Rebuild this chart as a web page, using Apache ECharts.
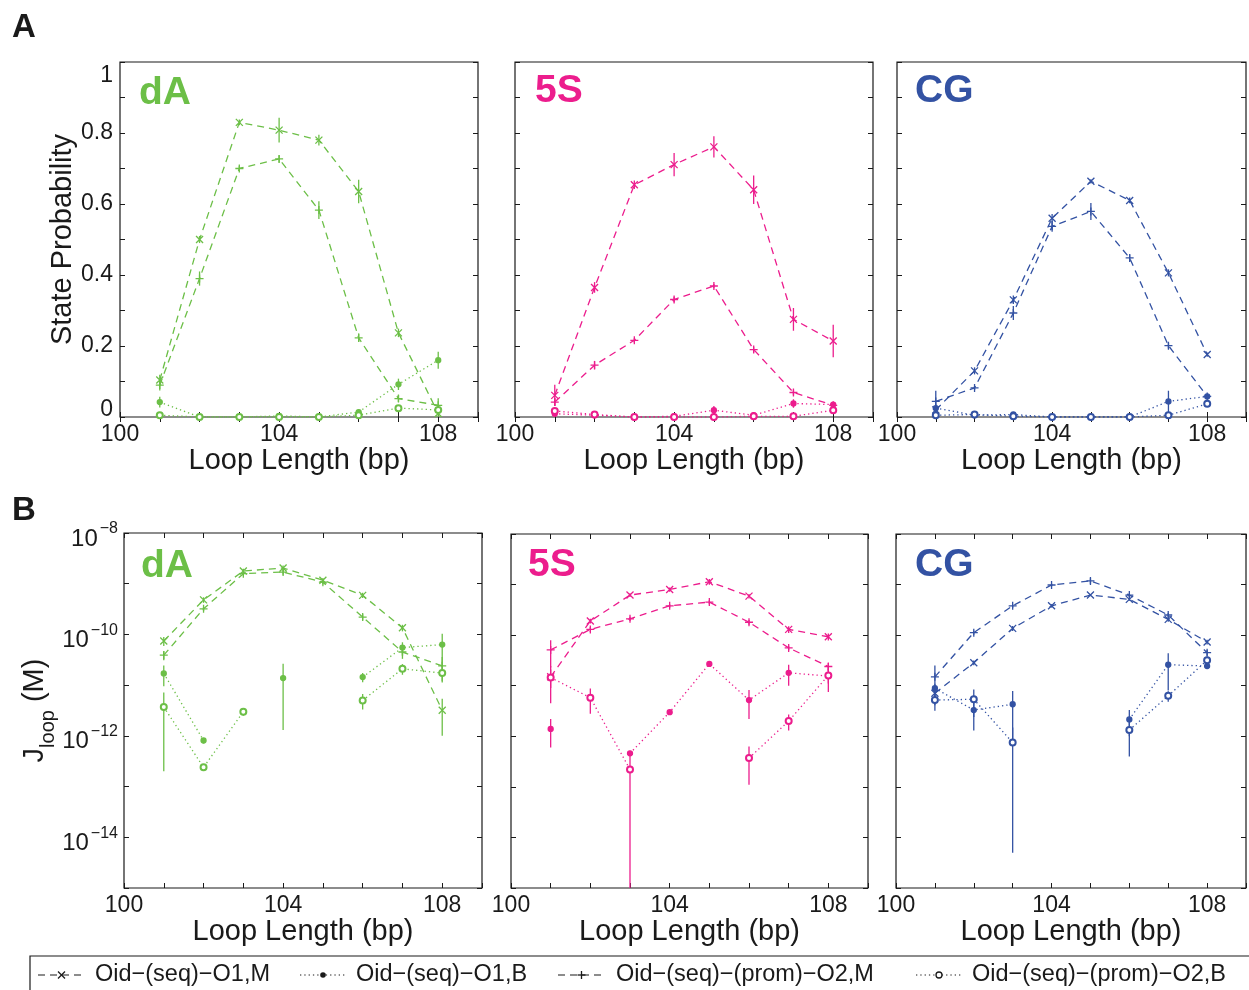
<!DOCTYPE html>
<html>
<head>
<meta charset="utf-8">
<script src="https://cdn.jsdelivr.net/npm/echarts@6/dist/echarts.min.js"></script>
<style>
html, body { margin: 0; padding: 0; background: #fff; }
#chart { width: 1249px; height: 990px; }
</style>
</head>
<body>
<div id="chart"></div>
<script>
// ---- categories and labels ----
const loopLengths = [101, 102, 103, 104, 105, 106, 107, 108];
const xTickLabels = [100, 104, 108];
const probTickLabels = [0, 0.2, 0.4, 0.6, 0.8, 1];
const jTickExponents = [-8, -10, -12, -14];
const seriesNames = ['Oid−(seq)−O1,M', 'Oid−(seq)−O1,B', 'Oid−(seq)−(prom)−O2,M', 'Oid−(seq)−(prom)−O2,B'];
const constructNames = ['dA', '5S', 'CG'];
const constructColors = ['#6cbf47', '#ec1d8d', '#3352a3'];

// ---- A: state probability (value, error) ----
const probDA_O1M = [0.104, 0.50, 0.83, 0.808, 0.78, 0.635, 0.237, 0.01];
const probDA_O1B = [0.042, 0.0, 0.0, 0.003, 0.0, 0.014, 0.092, 0.16];
const probDA_O2M = [0.09, 0.39, 0.70, 0.727, 0.583, 0.223, 0.052, 0.033];
const probDA_O2B = [0.005, 0.0, 0.0, 0.0, 0.0, 0.005, 0.025, 0.02];
const probDA_O1M_err = [0.015, 0.01, 0.008, 0.035, 0.015, 0.033, 0.012, 0.01];
const probDA_O1B_err = [0.015, 0.002, 0.002, 0.003, 0.002, 0.006, 0.016, 0.024];
const probDA_O2M_err = [0.015, 0.02, 0.008, 0.01, 0.025, 0.012, 0.01, 0.02];
const probDA_O2B_err = [0.004, 0.002, 0.002, 0.002, 0.002, 0.003, 0.008, 0.012];

const prob5S_O1M = [0.061, 0.365, 0.654, 0.711, 0.761, 0.64, 0.275, 0.214];
const prob5S_O1B = [0.009, 0.005, 0.0, 0.002, 0.019, 0.005, 0.038, 0.035];
const prob5S_O2M = [0.042, 0.146, 0.216, 0.331, 0.369, 0.19, 0.069, 0.033];
const prob5S_O2B = [0.017, 0.007, 0.0, 0.0, 0.0, 0.002, 0.002, 0.019];
const prob5S_O1M_err = [0.03, 0.015, 0.012, 0.033, 0.03, 0.04, 0.032, 0.046];
const prob5S_O1B_err = [0.005, 0.003, 0.002, 0.002, 0.012, 0.003, 0.012, 0.006];
const prob5S_O2M_err = [0.01, 0.012, 0.006, 0.008, 0.006, 0.008, 0.008, 0.006];
const prob5S_O2B_err = [0.004, 0.003, 0.002, 0.002, 0.002, 0.002, 0.002, 0.006];

const probCG_O1M = [0.02, 0.13, 0.33, 0.56, 0.664, 0.61, 0.406, 0.176];
const probCG_O1B = [0.025, 0.005, 0.007, 0.0, 0.0, 0.0, 0.044, 0.058];
const probCG_O2M = [0.044, 0.082, 0.293, 0.537, 0.579, 0.448, 0.201, 0.058];
const probCG_O2B = [0.005, 0.007, 0.002, 0.0, 0.0, 0.0, 0.005, 0.037];
const probCG_O1M_err = [0.01, 0.01, 0.012, 0.012, 0.006, 0.008, 0.01, 0.006];
const probCG_O1B_err = [0.01, 0.003, 0.003, 0.002, 0.002, 0.002, 0.03, 0.005];
const probCG_O2M_err = [0.03, 0.006, 0.02, 0.015, 0.024, 0.01, 0.008, 0.006];
const probCG_O2B_err = [0.003, 0.003, 0.003, 0.002, 0.002, 0.002, 0.003, 0.005];

// ---- B: J-loop in M (value, error); null = no estimate ----
const jDA_O1M = [7.4e-11, 4.8e-10, 1.78e-9, 2.04e-9, 1.17e-9, 5.9e-10, 1.35e-10, 3.2e-12];
const jDA_O1B = [1.7e-11, 8.1e-13, null, 1.38e-11, null, 1.44e-11, 5.5e-11, 6.3e-11];
const jDA_O2M = [3.9e-11, 3.2e-10, 1.58e-9, 1.7e-9, 1.07e-9, 2.2e-10, 4.5e-11, 2.4e-11];
const jDA_O2B = [3.7e-12, 2.4e-13, 3.0e-12, null, null, 5.0e-12, 2.1e-11, 1.73e-11];
const jDA_O1M_err = [1.5e-11, 6e-11, 2e-10, 2.5e-10, 1e-10, 7e-11, 2e-11, 2.2e-12];
const jDA_O1B_err = [7.5e-12, 1e-13, null, 1.25e-11, null, 3e-12, 1.5e-11, 4e-11];
const jDA_O2M_err = [8e-12, 3e-11, 1.5e-10, 2e-10, 1e-10, 3e-11, 1.2e-11, 1.2e-11];
const jDA_O2B_err = [3.5e-12, 3e-14, 5e-13, null, null, 1.7e-12, 5e-12, 6e-12];

const j5S_O1M = [1.5e-11, 1.9e-10, 6.2e-10, 8.0e-10, 1.14e-9, 5.9e-10, 1.3e-10, 9.3e-11];
const j5S_O1B = [1.4e-12, null, 4.6e-13, 3.0e-12, 2.7e-11, 5.2e-12, 1.8e-11, 1.55e-11];
const j5S_O2M = [5.1e-11, 1.3e-10, 2.1e-10, 3.8e-10, 4.5e-10, 1.8e-10, 5.6e-11, 2.4e-11];
const j5S_O2B = [1.45e-11, 5.8e-12, 2.2e-13, null, null, 3.7e-13, 2.0e-12, 1.6e-11];
const j5S_O1M_err = [6e-12, 2e-11, 5e-11, 8e-11, 1.5e-10, 6e-11, 2e-11, 1.5e-11];
const j5S_O1B_err = [8e-13, null, 2e-14, 3e-13, 2e-12, 3e-12, 8e-12, 8e-12];
const j5S_O2M_err = [2.8e-11, 1.5e-11, 2e-11, 3e-11, 4e-11, 2e-11, 6e-12, 4e-12];
const j5S_O2B_err = [1e-11, 3e-12, 2.5e-13, null, null, 2.6e-13, 7e-13, 5e-12];

const jCG_O1M = [7.1e-12, 2.85e-11, 1.36e-10, 3.8e-10, 6.2e-10, 5.1e-10, 2.05e-10, 7.3e-11];
const jCG_O1B = [8.9e-12, 3.3e-12, 4.3e-12, null, null, 2.15e-12, 2.6e-11, 2.45e-11];
const jCG_O2M = [1.5e-11, 1.12e-10, 3.8e-10, 9.8e-10, 1.18e-9, 6.2e-10, 2.5e-10, 4.5e-11];
const jCG_O2B = [5.2e-12, 5.4e-12, 7.5e-13, null, null, 1.33e-12, 6.3e-12, 3.2e-11];
const jCG_O1M_err = [3e-12, 3e-12, 1.5e-11, 3e-11, 3e-11, 3e-11, 2e-11, 8e-12];
const jCG_O1B_err = [2e-12, 2e-12, 3.6e-12, null, null, 1.15e-12, 1.8e-11, 3e-12];
const jCG_O2M_err = [1e-11, 1e-11, 3e-11, 6e-11, 1.5e-10, 5e-11, 2.5e-11, 6e-12];
const jCG_O2B_err = [2e-12, 3e-12, 7.45e-13, null, null, 9.3e-13, 1.5e-12, 4e-12];

// ---- panel assembly ----
const panelValues = [
  [probDA_O1M, probDA_O1B, probDA_O2M, probDA_O2B],
  [prob5S_O1M, prob5S_O1B, prob5S_O2M, prob5S_O2B],
  [probCG_O1M, probCG_O1B, probCG_O2M, probCG_O2B],
  [jDA_O1M, jDA_O1B, jDA_O2M, jDA_O2B],
  [j5S_O1M, j5S_O1B, j5S_O2M, j5S_O2B],
  [jCG_O1M, jCG_O1B, jCG_O2M, jCG_O2B]
];
const panelErrors = [
  [probDA_O1M_err, probDA_O1B_err, probDA_O2M_err, probDA_O2B_err],
  [prob5S_O1M_err, prob5S_O1B_err, prob5S_O2M_err, prob5S_O2B_err],
  [probCG_O1M_err, probCG_O1B_err, probCG_O2M_err, probCG_O2B_err],
  [jDA_O1M_err, jDA_O1B_err, jDA_O2M_err, jDA_O2B_err],
  [j5S_O1M_err, j5S_O1B_err, j5S_O2M_err, j5S_O2B_err],
  [jCG_O1M_err, jCG_O1B_err, jCG_O2M_err, jCG_O2B_err]
];

const FONT = '"Liberation Sans", Arial, Helvetica, sans-serif';
const INK = '#1a1a1a';
const X_MARK = 'path://M0,0L10,10M10,0L0,10';
const PLUS_MARK = 'path://M5,0L5,10M0,5L10,5';
const DASHED = [7, 5];
const DOTTED = [1.3, 3];
const kindStyles = [
  { dash: DASHED, symbol: X_MARK, size: 7 },
  { dash: DOTTED, symbol: 'circle', size: 5 },
  { dash: DASHED, symbol: PLUS_MARK, size: 8 },
  { dash: DOTTED, symbol: 'emptyCircle', size: 6 }
];

// grid boxes [left, top, width, height]
const gridBoxes = [
  [120, 62, 358, 355], [515, 62, 358, 355], [897, 62, 358, 355],
  [124, 533, 358, 355], [511, 534, 357, 354], [896, 534, 358, 354]
];

const grids = [], xAxes = [], yAxes = [], series = [];

function probLabel(v) {
  const k = Math.round(v * 10);
  if (!probTickLabels.some(t => Math.abs(t * 10 - k) < 1e-6)) return '';
  if (k === 10) return '{hi|1}';
  if (k === 0) return '{lo|0}';
  return '{n|' + (k / 10).toFixed(1) + '}';
}
function jLabel(v) {
  const e = Math.round(Math.log10(v));
  if (!jTickExponents.includes(e)) return '';
  return '{b|10}{s|−' + (-e) + '}';
}

function errorRenderer(color, isLog) {
  return function (params, api) {
    const x = api.value(0), v = api.value(1), e = api.value(2);
    const cs = params.coordSys;
    const top = cs.y, bot = cs.y + cs.height;
    const px = api.coord([x, v])[0];
    let y1 = api.coord([x, v + e])[1];
    const lo = v - e;
    let y2 = (isLog && lo <= 0) ? bot : api.coord([x, lo])[1];
    y1 = Math.max(top, Math.min(bot, y1));
    y2 = Math.max(top, Math.min(bot, y2));
    return {
      type: 'line',
      shape: { x1: px, y1: y1, x2: px, y2: y2 },
      style: { stroke: color, lineWidth: 1.3 }
    };
  };
}

gridBoxes.forEach((b, p) => {
  const isLog = p >= 3;
  const col = p % 3;
  const color = constructColors[col];
  grids.push({ left: b[0], top: b[1], width: b[2], height: b[3], show: true,
    borderColor: INK, borderWidth: 1.2, backgroundColor: 'transparent' });

  const xBase = { gridIndex: p, type: 'value', min: 100, max: 109, interval: 1,
    axisLine: { show: false }, splitLine: { show: false },
    axisTick: { inside: true, length: 5, lineStyle: { color: INK, width: 1 } } };
  xAxes.push(Object.assign({}, xBase, {
    position: 'bottom',
    axisLabel: { fontSize: 23, fontFamily: FONT, color: INK, margin: 6,
      formatter: v => xTickLabels.includes(v) ? String(v) : '' },
    name: 'Loop Length (bp)', nameLocation: 'middle', nameGap: 29,
    nameTextStyle: { fontSize: 29, fontFamily: FONT, color: INK }
  }));
  xAxes.push(Object.assign({}, xBase, { position: 'top', axisLabel: { show: false } }));

  const yBase = isLog
    ? { gridIndex: p, type: 'log', logBase: 10, min: 1e-15, max: 1e-8, interval: 1, splitNumber: 7 }
    : { gridIndex: p, type: 'value', min: 0, max: 1, interval: 0.1 };
  Object.assign(yBase, { axisLine: { show: false }, splitLine: { show: false },
    axisTick: { inside: true, length: 5, lineStyle: { color: INK, width: 1 } } });

  const yLeft = Object.assign({}, yBase, { position: 'left' });
  if (col === 0) {
    yLeft.axisLabel = isLog
      ? { margin: 6, formatter: jLabel, rich: {
          b: { fontSize: 24, fontFamily: FONT, color: INK, padding: [12, 0, 0, 0], verticalAlign: 'top' },
          s: { fontSize: 16, fontFamily: FONT, color: INK, padding: [6, 0, 0, 2], verticalAlign: 'top' } } }
      : { margin: 7, formatter: probLabel, rich: {
          n: { fontSize: 23, fontFamily: FONT, color: INK },
          hi: { fontSize: 23, fontFamily: FONT, color: INK, padding: [28, 0, 0, 0] },
          lo: { fontSize: 23, fontFamily: FONT, color: INK, padding: [0, 0, 14, 0] } } };
    if (isLog) {
      yLeft.name = '{j|J}{sub|loop}{j| (M)}';
      yLeft.nameLocation = 'middle';
      yLeft.nameGap = 66;
      yLeft.nameTextStyle = { rich: {
        j: { fontSize: 29, fontFamily: FONT, color: INK, lineHeight: 29, verticalAlign: 'top' },
        sub: { fontSize: 20, fontFamily: FONT, color: INK, lineHeight: 20, padding: [18, 0, 0, 0], verticalAlign: 'top' } } };
    } else {
      yLeft.name = 'State Probability';
      yLeft.nameLocation = 'middle';
      yLeft.nameGap = 42;
      yLeft.nameTextStyle = { fontSize: 29, fontFamily: FONT, color: INK };
    }
  } else {
    yLeft.axisLabel = { show: false };
  }
  yAxes.push(yLeft);
  yAxes.push(Object.assign({}, yBase, { position: 'right', axisLabel: { show: false } }));

  const vals = panelValues[p], errs = panelErrors[p];
  const errData = [];
  vals.forEach((arr, k) => {
    const st = kindStyles[k];
    series.push({
      type: 'line', name: seriesNames[k],
      xAxisIndex: 2 * p, yAxisIndex: 2 * p,
      data: loopLengths.map((x, i) => [x, arr[i] == null ? '-' : arr[i]]),
      symbol: st.symbol, symbolSize: st.size, showSymbol: true,
      lineStyle: { color: color, width: 1.3, type: st.dash },
      itemStyle: { color: color, borderColor: color, borderWidth: 1.3 },
      emphasis: { disabled: true }, animation: false, z: 3
    });
    loopLengths.forEach((x, i) => {
      if (arr[i] != null && errs[k][i] != null && errs[k][i] > 0) errData.push([x, arr[i], errs[k][i]]);
    });
  });
  series.push({
    type: 'custom', xAxisIndex: 2 * p, yAxisIndex: 2 * p,
    renderItem: errorRenderer(color, isLog),
    encode: { x: 0, y: 1 }, data: errData, animation: false, z: 2, silent: true
  });
});

// panel captions, row letters and the shared key
const graphics = [];
const captionPos = [[139, 74], [535, 72], [915, 72], [141, 547], [528, 546], [915, 546]];
captionPos.forEach((c, p) => {
  graphics.push({ type: 'text', left: c[0], top: c[1], z: 10,
    style: { text: constructNames[p % 3], fill: constructColors[p % 3],
      font: 'bold 39px ' + FONT } });
});
graphics.push({ type: 'text', left: 12, top: 11, style: { text: 'A', fill: INK, font: 'bold 33px ' + FONT } });
graphics.push({ type: 'text', left: 12, top: 494, style: { text: 'B', fill: INK, font: 'bold 33px ' + FONT } });

graphics.push({ type: 'rect', shape: { x: 30, y: 956, width: 1250, height: 60 },
  style: { fill: 'none', stroke: INK, lineWidth: 1.2 } });
const keyItems = [
  { x0: 38, x1: 85, tx: 95, dash: DASHED, mark: 'x' },
  { x0: 300, x1: 346, tx: 356, dash: DOTTED, mark: 'dot' },
  { x0: 558, x1: 605, tx: 616, dash: DASHED, mark: '+' },
  { x0: 916, x1: 962, tx: 972, dash: DOTTED, mark: 'o' }
];
const keyY = 975;
keyItems.forEach((it, k) => {
  const cx = (it.x0 + it.x1) / 2;
  graphics.push({ type: 'line', shape: { x1: it.x0, y1: keyY, x2: it.x1, y2: keyY },
    style: { stroke: INK, lineWidth: 1.2, lineDash: it.dash } });
  if (it.mark === 'x') {
    graphics.push({ type: 'polyline', shape: { points: [[cx - 3.5, keyY - 3.5], [cx + 3.5, keyY + 3.5]] }, style: { stroke: INK, lineWidth: 1.3 } });
    graphics.push({ type: 'polyline', shape: { points: [[cx + 3.5, keyY - 3.5], [cx - 3.5, keyY + 3.5]] }, style: { stroke: INK, lineWidth: 1.3 } });
  } else if (it.mark === '+') {
    graphics.push({ type: 'polyline', shape: { points: [[cx, keyY - 4], [cx, keyY + 4]] }, style: { stroke: INK, lineWidth: 1.3 } });
    graphics.push({ type: 'polyline', shape: { points: [[cx - 4, keyY], [cx + 4, keyY]] }, style: { stroke: INK, lineWidth: 1.3 } });
  } else if (it.mark === 'dot') {
    graphics.push({ type: 'circle', shape: { cx: cx, cy: keyY, r: 2.8 }, style: { fill: INK } });
  } else {
    graphics.push({ type: 'circle', shape: { cx: cx, cy: keyY, r: 3 }, style: { fill: '#fff', stroke: INK, lineWidth: 1.3 } });
  }
  graphics.push({ type: 'text', left: it.tx, top: keyY - 12,
    style: { text: seriesNames[k], fill: INK, font: '23.5px ' + FONT } });
});

const chart = echarts.init(document.getElementById('chart'), null, { renderer: 'canvas' });
chart.setOption({
  animation: false,
  backgroundColor: '#fff',
  grid: grids,
  xAxis: xAxes,
  yAxis: yAxes,
  series: series,
  graphic: graphics
});
</script>
</body>
</html>
